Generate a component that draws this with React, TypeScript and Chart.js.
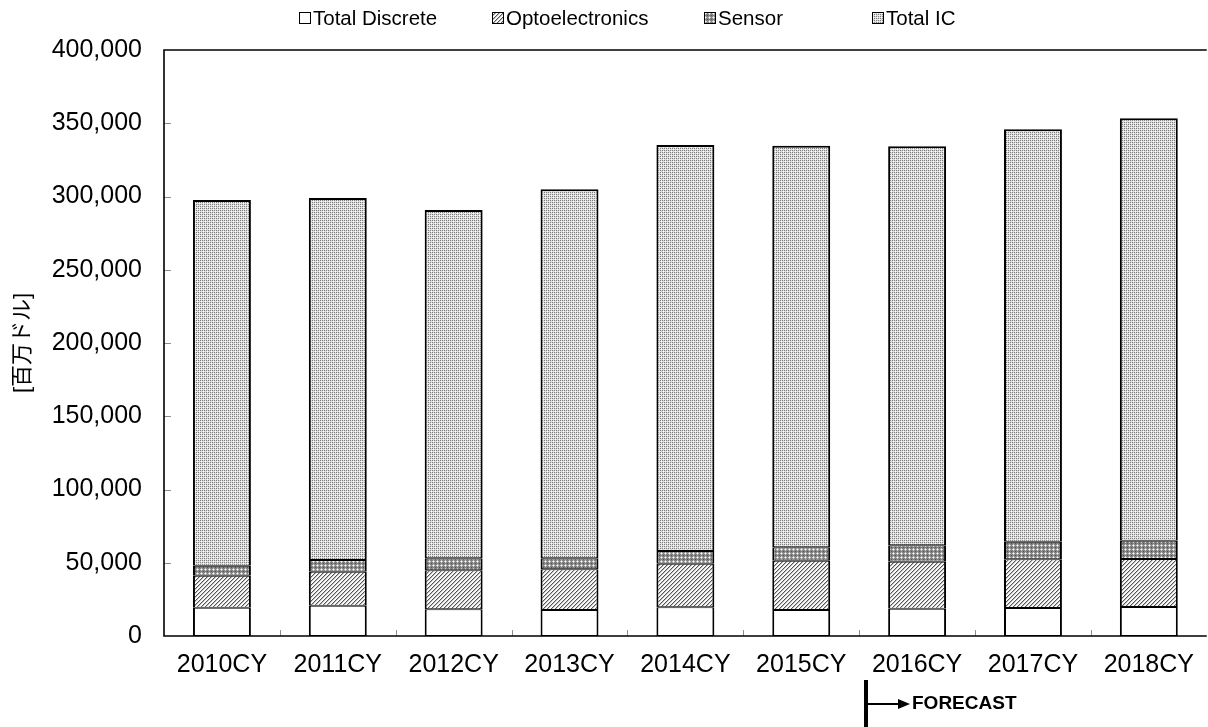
import React, { useEffect, useRef } from "react";
import { Chart, registerables } from "chart.js";

Chart.register(...registerables);

const categories = ["2010CY", "2011CY", "2012CY", "2013CY", "2014CY", "2015CY", "2016CY", "2017CY", "2018CY"];
const seriesNames = ["Total Discrete", "Optoelectronics", "Sensor", "Total IC"];
const totalDiscrete = [19300, 20700, 18200, 17700, 19600, 17700, 18600, 19100, 19800];
const optoelectronics = [21900, 23200, 26600, 27800, 29800, 33700, 32100, 33300, 32800];
const sensor = [6800, 8000, 8200, 7500, 8600, 9100, 11200, 12000, 12500];
const totalIC = [249600, 247100, 237800, 251900, 277200, 274200, 272400, 281500, 288300];
const yTicks = [0, 50000, 100000, 150000, 200000, 250000, 300000, 350000, 400000];
const yAxisTitle = "[百万ドル]";
const forecastLabel = "FORECAST";
const forecastStartIndex = 6;

const FONT = "'Liberation Sans', Arial, 'Noto Sans CJK JP', sans-serif";

function makePattern(size: number, fn: (x: number, y: number) => number): CanvasPattern | string {
  const c = document.createElement("canvas");
  c.width = size;
  c.height = size;
  const cx = c.getContext("2d");
  if (!cx) return "#ccc";
  const img = cx.createImageData(size, size);
  for (let y = 0; y < size; y++) {
    for (let x = 0; x < size; x++) {
      const g = fn(x, y);
      const i = (y * size + x) * 4;
      img.data[i] = g;
      img.data[i + 1] = g;
      img.data[i + 2] = g;
      img.data[i + 3] = 255;
    }
  }
  cx.putImageData(img, 0, 0);
  const p = cx.createPattern(c, "repeat");
  return p || "#ccc";
}

export default function App() {
  const ref = useRef<HTMLCanvasElement | null>(null);

  useEffect(() => {
    if (!ref.current) return;

    const optoPat = makePattern(4, (x, y) => {
      const d = (x + y) % 4;
      if (d === 3) return 85;
      if (d === 0) return 190;
      return 250;
    });
    const sensorPat = makePattern(4, (x, y) => {
      if (x === 1 && y === 1) return 255;
      if ((x === 1 && (y === 0 || y === 2)) || (y === 1 && (x === 0 || x === 2))) return 200;
      if (x === 3 && y === 3) return 85;
      return 130;
    });
    const icPat = makePattern(4, (x, y) => {
      if (x % 2 === 0 && y % 2 === 0) return 125;
      if ((x === 1 && y === 1) || (x === 3 && y === 3)) return 255;
      return 222;
    });

    const fills: (string | CanvasPattern)[] = ["#ffffff", optoPat, sensorPat, icPat];
    const values = [totalDiscrete, optoelectronics, sensor, totalIC];

    const decor = {
      id: "decor",
      afterDraw(chart: any) {
        const { ctx, chartArea } = chart;
        const { left, top, right, bottom } = chartArea;
        const xs = chart.scales.x;
        const ys = chart.scales.y;
        ctx.save();

        // inner tick marks
        ctx.strokeStyle = "#8c8c8c";
        ctx.lineWidth = 1;
        ctx.beginPath();
        yTicks.forEach((v) => {
          if (v === 0 || v === 400000) return;
          const py = Math.round(ys.getPixelForValue(v)) + 0.5;
          ctx.moveTo(left, py);
          ctx.lineTo(left + 7, py);
        });
        for (let i = 1; i < categories.length; i++) {
          const px = Math.round((xs.getPixelForValue(i - 1) + xs.getPixelForValue(i)) / 2) + 0.5;
          ctx.moveTo(px, bottom);
          ctx.lineTo(px, bottom - 6);
        }
        ctx.stroke();

        // plot border
        ctx.strokeStyle = "#000";
        ctx.lineWidth = 1.6;
        ctx.beginPath();
        ctx.moveTo(right, top);
        ctx.lineTo(left, top);
        ctx.lineTo(left, bottom);
        ctx.lineTo(right, bottom);
        ctx.stroke();

        // legend
        const legendX = [299, 492, 704, 872];
        ctx.font = `20.5px ${FONT}`;
        ctx.textBaseline = "middle";
        ctx.textAlign = "left";
        seriesNames.forEach((name, i) => {
          const bx = legendX[i];
          const by = 12;
          ctx.fillStyle = fills[i];
          ctx.fillRect(bx, by, 12, 12);
          ctx.strokeStyle = "#000";
          ctx.lineWidth = 1;
          ctx.strokeRect(bx + 0.5, by + 0.5, 11, 11);
          ctx.fillStyle = "#000";
          ctx.fillText(name, bx + 14, 19);
        });

        // forecast marker
        const cw = xs.getPixelForValue(1) - xs.getPixelForValue(0);
        const fx = Math.round(xs.getPixelForValue(forecastStartIndex) - cw * 0.44);
        ctx.fillStyle = "#000";
        ctx.fillRect(fx - 2, 680, 4, 47);
        ctx.fillRect(fx, 703, 34, 2);
        ctx.beginPath();
        ctx.moveTo(fx + 44, 704);
        ctx.lineTo(fx + 32, 699);
        ctx.lineTo(fx + 32, 709);
        ctx.closePath();
        ctx.fill();
        ctx.font = `bold 19px ${FONT}`;
        ctx.fillText(forecastLabel, fx + 46, 704);

        ctx.restore();
      },
    };

    const chart = new Chart(ref.current, {
      type: "bar",
      data: {
        labels: categories,
        datasets: seriesNames.map((name, i) => ({
          label: name,
          data: values[i],
          backgroundColor: fills[i] as any,
          borderColor: "#000",
          borderWidth: { left: 2, right: 2, top: i === 3 ? 2 : 1, bottom: 1 },
          borderSkipped: false,
          categoryPercentage: 1,
          barPercentage: 0.5,
        })),
      },
      options: {
        responsive: false,
        animation: false,
        devicePixelRatio: 1,
        layout: { padding: { top: 50, left: 0, right: 0, bottom: 0 } },
        plugins: {
          legend: { display: false },
          tooltip: { enabled: false },
          title: { display: false },
        },
        scales: {
          x: {
            stacked: true,
            grid: { display: false, drawTicks: false },
            border: { display: false },
            ticks: { color: "#000", font: { family: FONT, size: 25 }, padding: 14, maxRotation: 0 },
            afterFit: (s: any) => {
              s.height = 91;
            },
          },
          y: {
            stacked: true,
            min: 0,
            max: 400000,
            grid: { display: false, drawTicks: false },
            border: { display: false },
            ticks: {
              color: "#000",
              font: { family: FONT, size: 25 },
              padding: 22,
              stepSize: 50000,
              callback: (v: any) => Number(v).toLocaleString("en-US"),
            },
            title: {
              display: true,
              text: yAxisTitle,
              color: "#000",
              font: { family: FONT, size: 22 },
              padding: { top: 10, bottom: 0 },
            },
            afterFit: (s: any) => {
              s.width = 164;
            },
          },
        },
      },
      plugins: [decor],
    });

    return () => chart.destroy();
  }, []);

  return (
    <div style={{ position: "fixed", left: 0, top: 0, width: 1208, height: 727, background: "#fff" }}>
      <canvas ref={ref} width={1208} height={727} style={{ width: 1208, height: 727, display: "block" }} />
    </div>
  );
}
